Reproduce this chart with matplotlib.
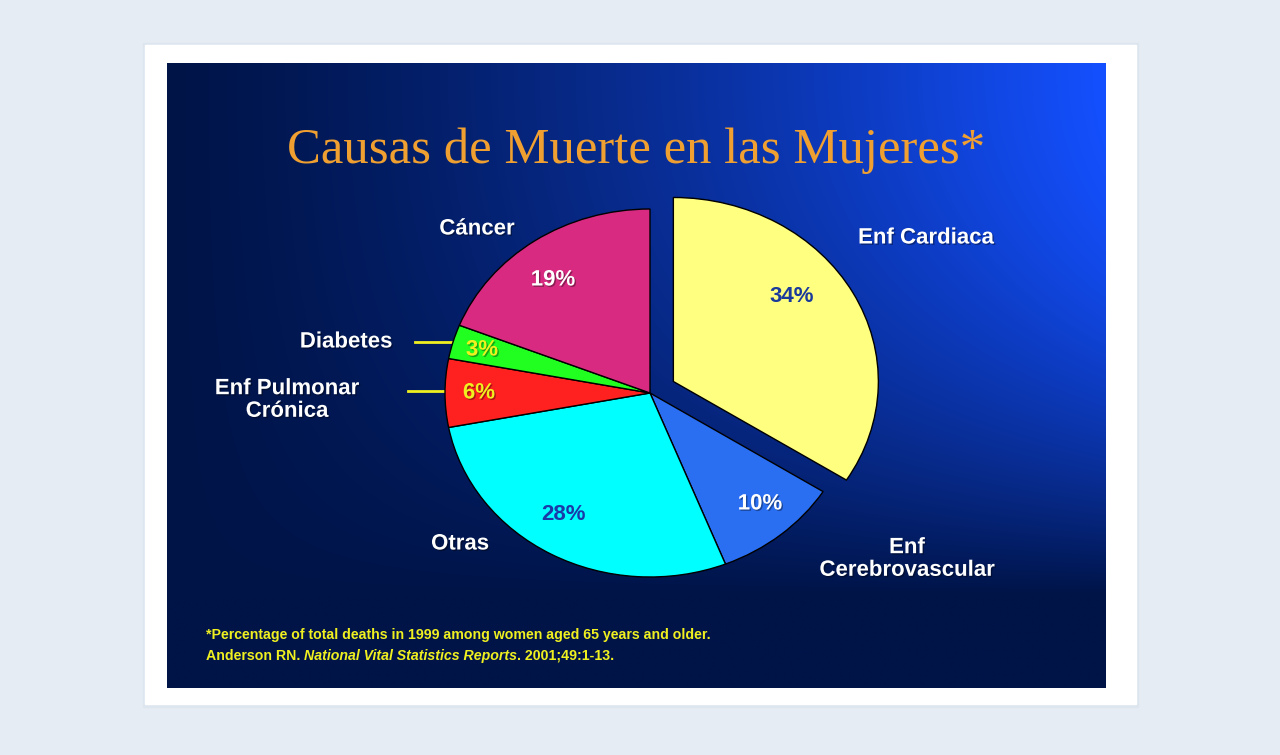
"""Pie chart slide: causes of death in women."""
import matplotlib

matplotlib.use("Agg")
import matplotlib.pyplot as plt
import matplotlib.patheffects as pe
import numpy as np
from matplotlib.patches import Rectangle

W, H = 1280, 755

categories = ["Enf Cardiaca", "Enf\nCerebrovascular", "Otras",
              "Enf Pulmonar\nCrónica", "Diabetes", "Cáncer"]
values = [34, 10, 28, 6, 3, 19]
pct_labels = ["34%", "10%", "28%", "6%", "3%", "19%"]
colors = ["#ffff80", "#2a6ef2", "#00ffff", "#ff2020", "#20ff20", "#d82a80"]
pct_colors = ["#1a3a9c", "white", "#1a3aa8", "#f0f020", "#f0f020", "white"]

# label positions in pixel coords (x, y from top)
cat_pos = [(926, 238), (907, 559), (460, 544), (287, 400), (346, 342), (477, 229)]
pct_pos = [(792, 296), (760, 504), (564, 514), (479, 393), (482, 350), (553, 280)]


def fy(y):
    return H - y


fig = plt.figure(figsize=(W / 100, H / 100), dpi=100)
ax = fig.add_axes([0, 0, 1, 1])
ax.set_xlim(0, W)
ax.set_ylim(0, H)
ax.axis("off")

# page + card
ax.add_patch(Rectangle((0, 0), W, H, color="#e5ecf4", zorder=0))
ax.add_patch(Rectangle((143, fy(707)), 995, 664, color="#dde5ee", zorder=0.5))
ax.add_patch(Rectangle((145, fy(704)), 991, 659, color="white", zorder=1))

# slide gradient background
x0, x1, y0, y1 = 167, 1106, 63, 688
nx, ny = 300, 200
xf = np.linspace(0, 1, nx)[None, :]
yf = np.linspace(0, 1, ny)[:, None]
t = (xf ** 1.3) * np.clip(1 - (yf / 0.85) ** 2.2, 0, 1)
dark = np.array([0x00, 0x14, 0x48]) / 255
bright = np.array([0x14, 0x50, 0xff]) / 255
img = dark[None, None, :] + (bright - dark)[None, None, :] * t[:, :, None]
ax.imshow(img, extent=(x0, x1, fy(y1), fy(y0)), origin="upper",
          aspect="auto", zorder=2, interpolation="bilinear")

shadow = [pe.SimplePatchShadow(offset=(1, -1), shadow_rgbFace="black",
                               alpha=0.35), pe.Normal()]

ax.text(636, fy(151), "Causas de Muerte en las Mujeres*",
        family="Liberation Serif", fontsize=36.5, color="#f0a030",
        ha="center", va="center", zorder=5)

for lab, (x, y) in zip(categories, cat_pos):
    ax.text(x, fy(y), lab, family="Liberation Sans", fontweight="bold",
            fontsize=16, color="white", ha="center", va="center",
            linespacing=1.1, zorder=5, path_effects=shadow)

# leader lines
ax.plot([415, 452], [fy(342), fy(342)], color="#f0f020", lw=2, zorder=4)
ax.plot([408, 445], [fy(391), fy(391)], color="#f0f020", lw=2, zorder=4)

# footnote
foot_kw = dict(family="Liberation Sans", fontweight="bold", fontsize=10.2,
               color="#f0f020", ha="left", va="center", zorder=5)
ax.text(206, fy(635),
        "*Percentage of total deaths in 1999 among women aged 65 years and older.",
        **foot_kw)
renderer = fig.canvas.get_renderer()
xpos = 206
for piece, style in [("Anderson RN. ", "normal"),
                     ("National Vital Statistics Reports", "italic"),
                     (". 2001;49:1-13.", "normal")]:
    txt = ax.text(xpos, fy(656), piece, style=style, **foot_kw)
    bb = txt.get_window_extent(renderer=renderer)
    xpos += bb.width

# pie in its own axes: slightly wider than tall, as on the slide
cx, cy, rx, ry = 650, 393, 205, 184
bw, bh = 520, 460
pax = fig.add_axes([(cx - bw / 2) / W, (fy(cy) - bh / 2) / H, bw / W, bh / H])
pax.pie(values, colors=colors, startangle=90, counterclock=False,
        explode=[0.13, 0, 0, 0, 0, 0],
        wedgeprops=dict(edgecolor="black", linewidth=1), frame=True)
pax.set_aspect("auto")
pax.set_xlim(-bw / 2 / rx, bw / 2 / rx)
pax.set_ylim(-bh / 2 / ry, bh / 2 / ry)
pax.axis("off")

for lab, (x, y), c in zip(pct_labels, pct_pos, pct_colors):
    eff = None if c in ("#1a3a9c", "#1a3aa8") else shadow
    pax.text(x, fy(y), lab, transform=ax.transData, family="Liberation Sans",
             fontweight="bold", fontsize=16, color=c, ha="center",
             va="center", zorder=5, path_effects=eff)

fig.savefig("out.png", dpi=100)
